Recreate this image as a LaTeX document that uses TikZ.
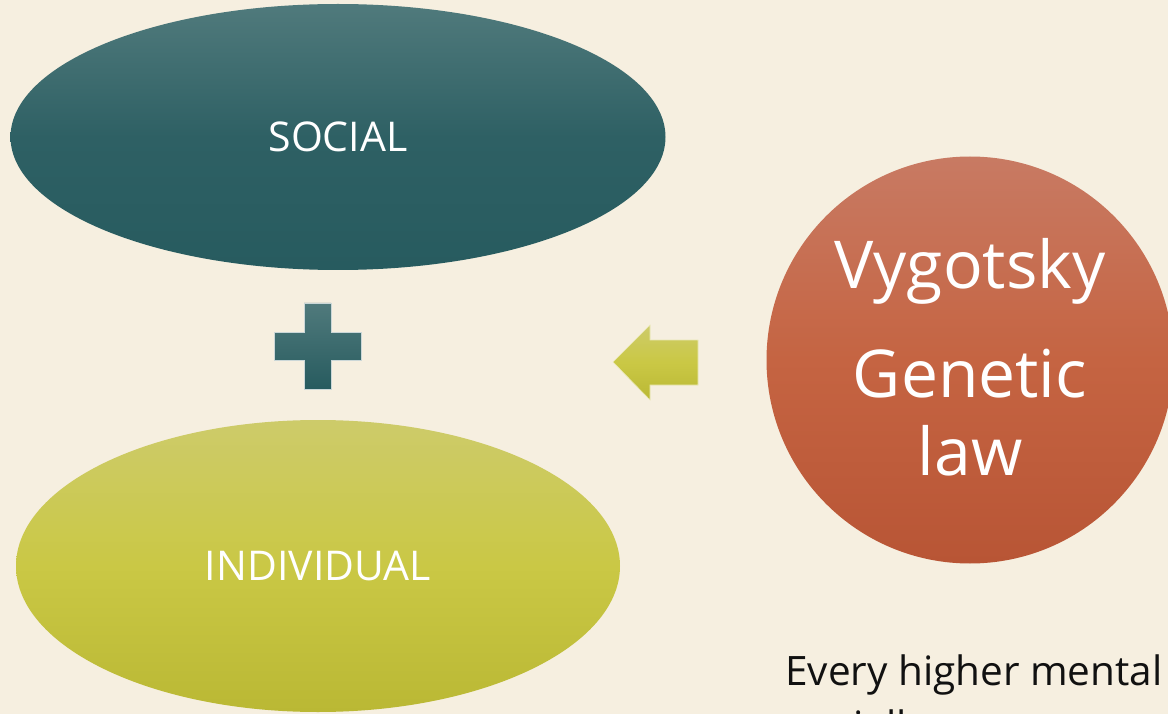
\documentclass[tikz,border=0pt]{standalone}
\usepackage{fontspec}
\setmainfont{Open Sans}
\usetikzlibrary{shapes.geometric}
\definecolor{paper}{RGB}{246,239,224}
\definecolor{tealtop}{RGB}{80,122,124}
\definecolor{tealmid}{RGB}{46,96,100}
\definecolor{tealbot}{RGB}{39,91,95}
\definecolor{limetop}{RGB}{205,203,106}
\definecolor{limemid}{RGB}{202,200,69}
\definecolor{limebot}{RGB}{186,184,52}
\definecolor{rusttop}{RGB}{200,122,99}
\definecolor{rustmid}{RGB}{197,100,66}
\definecolor{rustbot}{RGB}{184,85,53}
\definecolor{inktext}{RGB}{17,17,17}
\tikzset{
  bubble/.style={ellipse, inner sep=0pt, text=white, font=\fontsize{41}{48}\selectfont},
  tealfill/.style={top color=tealtop, bottom color=tealbot, middle color=tealmid},
  limefill/.style={top color=limetop, bottom color=limebot, middle color=limemid},
  rustfill/.style={top color=rusttop, bottom color=rustbot, middle color=rustmid},
  circletext/.style={text=white, anchor=base, inner sep=0pt, font=\fontsize{66}{76}\selectfont},
  bodytext/.style={text=inktext, anchor=base west, inner sep=0pt, font=\fontsize{40.5}{50}\selectfont},
}
\begin{document}
\begin{tikzpicture}[x=1pt, y=-1pt]
  \fill[paper] (0,0) rectangle (1168,714);
  \useasboundingbox (0,0) rectangle (1168,714);
  \clip (0,0) rectangle (1168,714);

  % two ellipses on the left
  \node[bubble, tealfill, minimum width=655pt, minimum height=266pt] (social) at (338,137) {SOCIAL};
  \node[bubble, limefill, minimum width=604pt, minimum height=292pt] (individual) at (318,566) {INDIVIDUAL};

  % plus sign between them
  \shade[top color=tealtop, bottom color=tealbot, draw=white!70!tealtop, line width=0.6pt]
    (304,303) -- (331,303) -- (331,332) -- (361,332) -- (361,360) -- (331,360)
    -- (331,389) -- (304,389) -- (304,360) -- (274,360) -- (274,332) -- (304,332) -- cycle;

  % block arrow pointing left
  \shade[top color=limetop, bottom color=limebot, middle color=limemid, draw=white!60!limemid, line width=0.6pt]
    (613,362) -- (650,325) -- (650,340) -- (698,340) -- (698,385) -- (650,385) -- (650,400) -- cycle;

  % circle on the right
  \node[circle, rustfill, minimum size=407pt, inner sep=0pt] (law) at (970,360) {};
  \node[circletext] (name) at (970,288) {Vygotsky};
  \node[circletext] (genetic) at (970,397) {Genetic};
  \node[circletext] (lawword) at (970,475) {law};

  % caption text below the circle; its second line runs off the bottom edge
  \node[bodytext] (line1) at (785,685) {Every higher mental};
  \node[bodytext] (line2) at (790,740) {socially};
\end{tikzpicture}
\end{document}
